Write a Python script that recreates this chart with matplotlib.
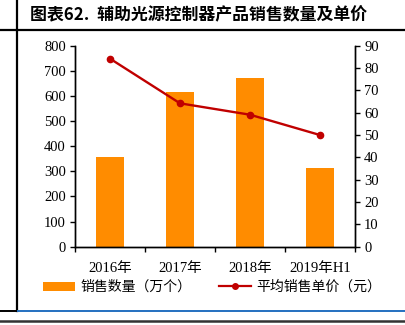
import matplotlib
matplotlib.use("Agg")
import matplotlib.pyplot as plt
from matplotlib.lines import Line2D
from matplotlib.patches import Patch

# data
categories = ["2016年", "2017年", "2018年", "2019年H1"]
sales_volume = [357, 615, 671, 313]      # 万个
avg_price = [84.2, 64.2, 59.1, 50.0]     # 元

title = "图表62.  辅助光源控制器产品销售数量及单价"
bar_label = "销售数量（万个）"
line_label = "平均销售单价（元）"

W, H = 406, 325
num_font = ["Liberation Serif", "Noto Sans CJK SC"]
cjk_font = ["Noto Sans CJK SC", "DejaVu Sans"]

fig = plt.figure(figsize=(W / 100, H / 100), dpi=100)

# frame lines of the report page
fig.add_artist(Line2D([17 / W, 17 / W], [1, 1 - 311 / H], color="black", lw=1.6))
fig.add_artist(Line2D([0, 1], [1 - 30 / H, 1 - 30 / H], color="black", lw=1.6))
fig.add_artist(Line2D([0, 18 / W], [1 - 311 / H, 1 - 311 / H], color="black", lw=1.4))
fig.add_artist(Line2D([18 / W, 1], [1 - 311 / H, 1 - 311 / H], color="#2470C0", lw=1.4))
fig.add_artist(Line2D([0, 1], [1 - 321 / H, 1 - 321 / H], color="#333333", lw=1.8))

fig.text(30 / W, 1 - 15 / H, title, family=cjk_font, fontsize=12.2,
         fontweight="bold", va="center", ha="left")

ax = fig.add_axes([75 / W, 1 - 246.7 / H, 280 / W, 201 / H])
ax2 = ax.twinx()

x = list(range(len(categories)))
ax.bar(x, sales_volume, width=0.39, color="#FF8C00", zorder=2)
ax2.plot(x, avg_price, color="#C00000", lw=1.7, marker="o", markersize=4.5, zorder=3)

ax.set_xlim(-0.5, len(categories) - 0.5)
ax.set_ylim(0, 800)
ax.set_yticks(range(0, 801, 100))
ax2.set_ylim(0, 90)
ax2.set_yticks(range(0, 91, 10))

ax.set_xticks([i - 0.5 for i in range(len(categories) + 1)])
ax.set_xticklabels([])
ax.set_xticks(x, minor=True)
ax.set_xticklabels(categories, minor=True, family=num_font, fontsize=10.5)
ax.tick_params(axis="x", which="major", direction="out", length=3.5, width=1)
ax.tick_params(axis="x", which="minor", length=0, pad=11)
ax.tick_params(axis="y", direction="out", length=3.5, width=1, labelsize=10.5, pad=3)
ax2.tick_params(axis="y", direction="out", length=3.5, width=1, labelsize=10.5, pad=3)

for a in (ax, ax2):
    for lab in a.get_yticklabels():
        lab.set_family(num_font)
    a.spines["top"].set_visible(False)
    for s in ("left", "right", "bottom"):
        a.spines[s].set_linewidth(1)

handles = [Patch(facecolor="#FF8C00", edgecolor="none"),
           Line2D([], [], color="#C00000", lw=1.6, marker="o", markersize=4)]
fig.legend(handles, [bar_label, line_label], loc="center", ncol=2,
           bbox_to_anchor=(212 / W, 1 - 287 / H), frameon=False,
           prop={"family": cjk_font, "size": 10}, handlelength=2.3,
           handleheight=0.6, columnspacing=2.0, handletextpad=0.4)

fig.savefig("out.png", dpi=100)
